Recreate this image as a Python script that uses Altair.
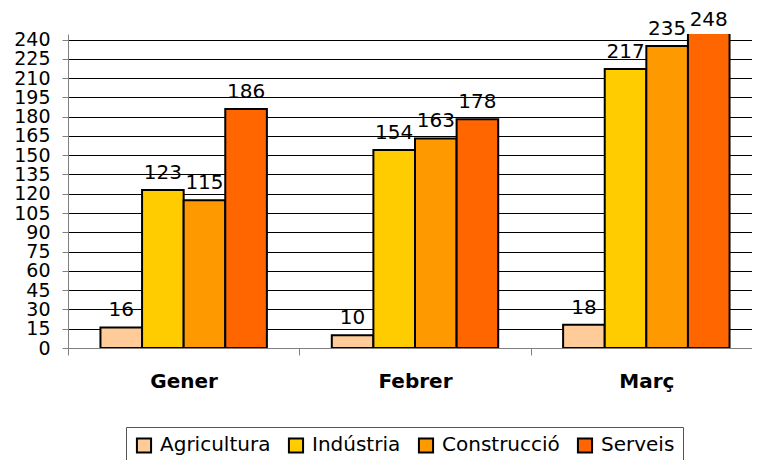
import altair as alt
import pandas as pd

months = ["Gener", "Febrer", "Març"]
sectors = ["Agricultura", "Indústria", "Construcció", "Serveis"]
agricultura = [16, 10, 18]
industria = [123, 154, 217]
construccio = [115, 163, 235]
serveis = [186, 178, 248]
colors = ["#FFCC99", "#FFCC00", "#FF9900", "#FF6600"]
y_ticks = [0, 15, 30, 45, 60, 75, 90, 105, 120, 135, 150, 165, 180, 195, 210, 225, 240]

rows = []
for s, vals in zip(sectors, [agricultura, industria, construccio, serveis]):
    for m, v in zip(months, vals):
        rows.append({"mes": m, "sector": s, "valor": v})
df = pd.DataFrame(rows)

FONT = "DejaVu Sans"

x_axis = alt.Axis(
    title=None,
    labelAngle=0,
    labelFont=FONT,
    labelFontSize=20,
    labelFontWeight="bold",
    labelColor="black",
    labelPadding=16,
    tickBand="extent",
    tickSize=7,
    tickColor="#808080",
    domainColor="#808080",
    grid=False,
)
y_axis = alt.Axis(
    title=None,
    values=y_ticks,
    labelFont=FONT,
    labelFontSize=19,
    labelColor="black",
    labelPadding=12,
    tickSize=6,
    tickColor="#808080",
    domainColor="#808080",
    gridColor="black",
    gridWidth=1,
    labelOverlap=False,
)
x_scale = alt.Scale(range=[0, 694], paddingInner=0, paddingOuter=0)
y_scale = alt.Scale(domain=[0, 244.3], nice=False, zero=True)
xoff = alt.XOffset("sector:N", sort=sectors, scale=alt.Scale(paddingOuter=0.78, paddingInner=0))

bars = alt.Chart(df).mark_bar(stroke="black", strokeWidth=2, clip=True).encode(
    x=alt.X("mes:N", sort=months, scale=x_scale, axis=x_axis),
    xOffset=xoff,
    y=alt.Y("valor:Q", scale=y_scale, axis=y_axis),
    color=alt.Color(
        "sector:N",
        sort=sectors,
        scale=alt.Scale(domain=sectors, range=colors),
        legend=alt.Legend(
            title=None,
            orient="none",
            legendX=58,
            legendY=393,
            direction="horizontal",
            symbolType="square",
            symbolSize=200,
            symbolStrokeColor="black",
            symbolStrokeWidth=2,
            labelFont=FONT,
            labelFontSize=20,
            labelColor="black",
            labelOffset=6,
            columnPadding=13,
            padding=8,
            strokeColor="#555555",
        ),
    ),
)

labels = alt.Chart(df).transform_calculate(
    ypos="min(datum.valor, 242)"
).mark_text(font=FONT, fontSize=20, color="black", baseline="alphabetic", dy=-11).encode(
    x=alt.X("mes:N", sort=months, scale=x_scale, axis=x_axis),
    xOffset=xoff,
    y=alt.Y("ypos:Q", scale=y_scale, axis=y_axis),
    text=alt.Text("valor:Q"),
)

chart = alt.layer(bars, labels).properties(
    width=684,
    height=314,
    autosize=alt.AutoSizeParams(type="none"),
    padding={"left": 60, "top": 26, "right": 0, "bottom": 112},
    title=alt.TitleParams("març 2006", font=FONT, fontSize=20, fontWeight="bold", offset=28, anchor="middle"),
).configure_view(stroke=None)

chart.save("out.html", embed_options={"renderer": "svg", "actions": False})
